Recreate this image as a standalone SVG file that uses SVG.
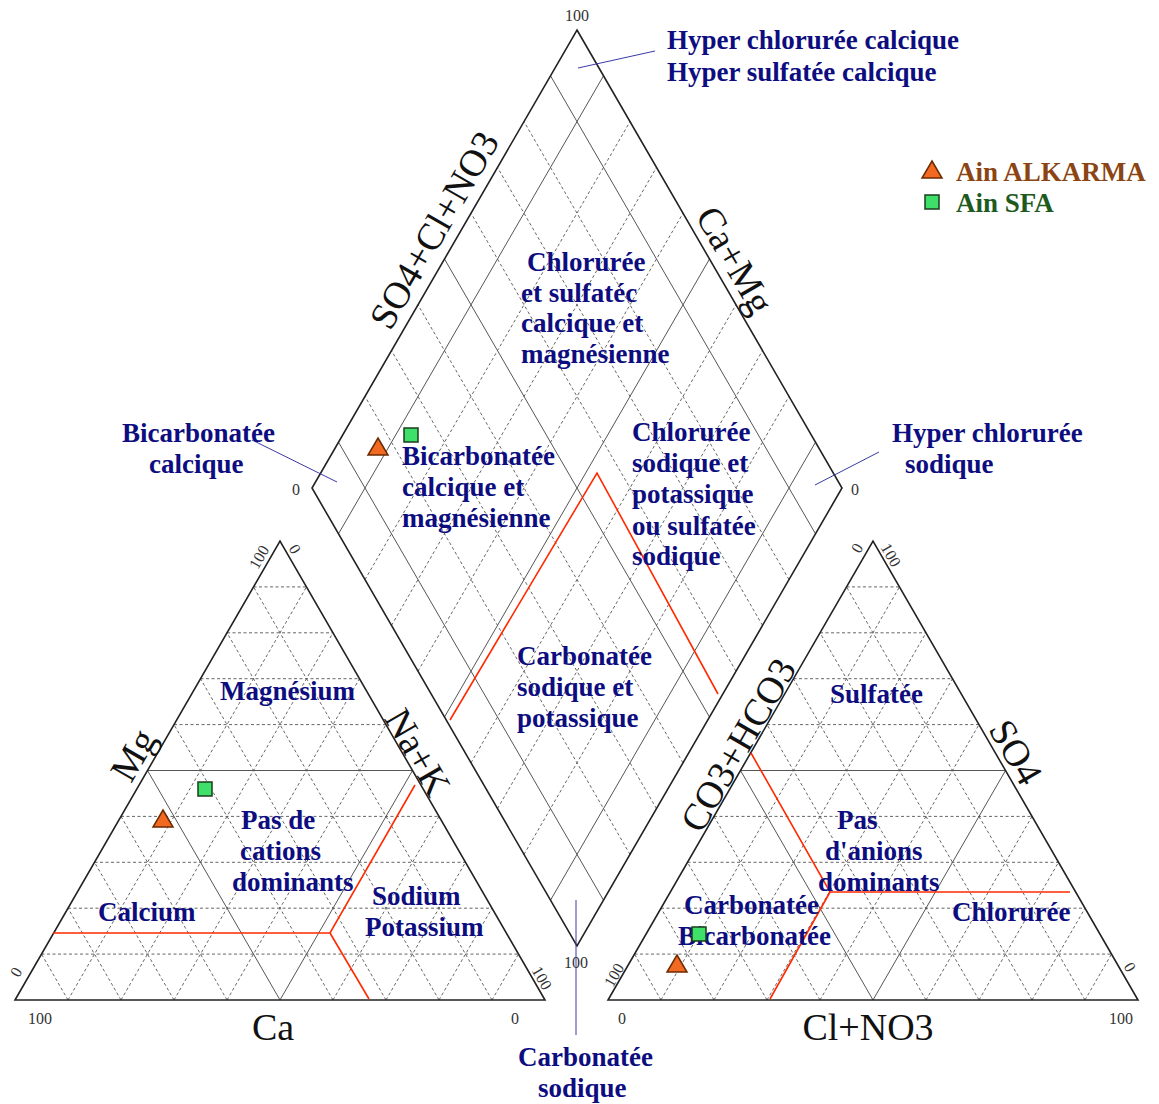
<svg xmlns="http://www.w3.org/2000/svg" xmlns:xlink="http://www.w3.org/1999/xlink" width="1159" height="1104" viewBox="0 0 1159 1104">
<style>
.edge{stroke:#222;stroke-width:1.6;fill:none;stroke-linejoin:miter}
.solid{stroke:#555;stroke-width:1;fill:none}
.dash{stroke:#555;stroke-width:0.9;stroke-dasharray:3 2.5;fill:none}
.red{stroke:#ff2a00;stroke-width:1.6;fill:none}
.lead{stroke:#3a3aa8;stroke-width:1;fill:none}
.lbl{font-family:"Liberation Serif","Times New Roman",serif;font-weight:bold;font-size:27px;fill:#0d0d80}
.axis{font-family:"Liberation Serif","Times New Roman",serif;font-size:38px;fill:#111}
.num{font-family:"Liberation Serif","Times New Roman",serif;font-size:16px;fill:#333}
.tri{fill:#f26a22;stroke:#6b2a00;stroke-width:1.5}
.sq{fill:#3ee06a;stroke:#1b3d1b;stroke-width:1.5}
</style>
<defs>
<g id="trigrid">
<path class="dash" d="M41.5 954.1H518.5M68 908.2H492M94.5 862.3H465.5M121 816.4H439M174 724.6H386M200.5 678.7H359.5M227 632.8H333M253.5 586.9H306.5"/>
<path class="dash" d="M68 1000L306.5 586.9M121 1000L333 632.8M174 1000L359.5 678.7M227 1000L386 724.6M333 1000L439 816.4M386 1000L465.5 862.3M439 1000L492 908.2M492 1000L518.5 954.1"/>
<path class="dash" d="M68 1000L41.5 954.1M121 1000L68 908.2M174 1000L94.5 862.3M227 1000L121 816.4M333 1000L174 724.6M386 1000L200.5 678.7M439 1000L227 632.8M492 1000L253.5 586.9"/>
<path class="solid" d="M147.5 770.5H412.5L280 1000Z"/>
<path class="edge" d="M15 1000H545L280 541Z"/>
</g>
<path id="mtri" d="M0 -9L10 8H-10Z"/>
<rect id="msq" x="-7" y="-7" width="14" height="14"/>
</defs>

<g id="left-triangle">
<use xlink:href="#trigrid"/>
<polyline class="red" points="53,933 330,933 415,785"/>
<line class="red" x1="330" y1="933" x2="369" y2="999"/>
</g>

<g id="right-triangle">
<use xlink:href="#trigrid" x="593"/>
<polyline class="red" points="751,753 830,892 1070,892"/>
<line class="red" x1="830" y1="892" x2="770" y2="999"/>
</g>

<g id="diamond">
<path class="dash" d="M630 854.4L365 396.4M656.5 808.6L391.5 350.6M683 762.8L418 304.8M736 671.2L471 213.2M762.5 625.4L497.5 167.4M789 579.6L524 121.6"/>
<path class="dash" d="M524 854.4L789 396.4M497.5 808.6L762.5 350.6M471 762.8L736 304.8M418 671.2L683 213.2M391.5 625.4L656.5 167.4M365 579.6L630 121.6"/>
<path class="solid" d="M603.5 900.2L338.5 442.2M709.5 717L444.5 259M815.5 533.8L550.5 75.8M550.5 900.2L815.5 442.2M444.5 717L709.5 259M338.5 533.8L603.5 75.8"/>
<path class="edge" d="M577 30L842 488L577 946L312 488Z"/>
<polyline class="red" points="450,720 597,473 718,694"/>
</g>

<g id="connectors">
<line class="lead" x1="578" y1="68" x2="655" y2="51"/>
<line class="lead" x1="252" y1="440" x2="337" y2="482"/>
<line class="lead" x1="815" y1="485" x2="879" y2="452"/>
<line class="lead" x1="576" y1="900" x2="576" y2="1035"/>
</g>

<g id="numbers" class="num">
<text x="577" y="21" text-anchor="middle">100</text>
<text x="296" y="495" text-anchor="middle">0</text>
<text x="855" y="495" text-anchor="middle">0</text>
<text x="576" y="968" text-anchor="middle">100</text>
<text transform="translate(259,557) rotate(-60)" y="5.5" text-anchor="middle">100</text>
<text transform="translate(295,549) rotate(60)" y="5.5" text-anchor="middle">0</text>
<text transform="translate(16,972) rotate(-60)" y="5.5" text-anchor="middle">0</text>
<text x="40" y="1024" text-anchor="middle">100</text>
<text x="515" y="1024" text-anchor="middle">0</text>
<text transform="translate(542,978) rotate(60)" y="5.5" text-anchor="middle">100</text>
<text transform="translate(857,548) rotate(-60)" y="5.5" text-anchor="middle">0</text>
<text transform="translate(891,555) rotate(60)" y="5.5" text-anchor="middle">100</text>
<text transform="translate(614,975) rotate(-60)" y="5.5" text-anchor="middle">100</text>
<text x="622" y="1024" text-anchor="middle">0</text>
<text transform="translate(1130,967) rotate(60)" y="5.5" text-anchor="middle">0</text>
<text x="1121" y="1024" text-anchor="middle">100</text>
</g>

<g id="axis-labels" class="axis">
<text transform="translate(434,230) rotate(-60)" y="13" text-anchor="middle">SO4+Cl+NO3</text>
<text transform="translate(735,260) rotate(60)" y="13" text-anchor="middle">Ca+Mg</text>
<text transform="translate(133,755) rotate(-60)" y="13" text-anchor="middle">Mg</text>
<text transform="translate(418,752) rotate(60)" y="13" text-anchor="middle">Na+K</text>
<text transform="translate(738,745) rotate(-60)" y="13" text-anchor="middle">CO3+HCO3</text>
<text transform="translate(1016,752) rotate(60)" y="13" text-anchor="middle">SO4</text>
<text x="273" y="1040" text-anchor="middle">Ca</text>
<text x="868" y="1040" text-anchor="middle">Cl+NO3</text>
</g>

<g id="region-labels" class="lbl">
<text x="667" y="49">Hyper chlorurée calcique</text>
<text x="667" y="81">Hyper sulfatée calcique</text>
<text x="122" y="442">Bicarbonatée</text>
<text x="149" y="473">calcique</text>
<text x="892" y="442">Hyper chlorurée</text>
<text x="905" y="473">sodique</text>
<text x="518" y="1066">Carbonatée</text>
<text x="538" y="1097">sodique</text>
<text x="527" y="271">Chlorurée</text>
<text x="521" y="302">et sulfatéc</text>
<text x="521" y="332">calcique et</text>
<text x="521" y="363">magnésienne</text>
<text x="402" y="465">Bicarbonatée</text>
<text x="402" y="496">calcique et</text>
<text x="402" y="527">magnésienne</text>
<text x="632" y="441">Chlorurée</text>
<text x="632" y="472">sodique et</text>
<text x="632" y="503">potassique</text>
<text x="632" y="535">ou sulfatée</text>
<text x="632" y="565">sodique</text>
<text x="517" y="665">Carbonatée</text>
<text x="517" y="696">sodique et</text>
<text x="517" y="727">potassique</text>
<text x="220" y="700">Magnésium</text>
<text x="241" y="829">Pas de</text>
<text x="240" y="860">cations</text>
<text x="232" y="891">dominants</text>
<text x="98" y="921">Calcium</text>
<text x="372" y="905">Sodium</text>
<text x="365" y="936">Potassium</text>
<text x="830" y="703">Sulfatée</text>
<text x="837" y="829">Pas</text>
<text x="825" y="860">d'anions</text>
<text x="818" y="891">dominants</text>
<text x="684" y="914">Carbonatée</text>
<text x="678" y="945">Bicarbonatée</text>
<text x="952" y="921">Chlorurée</text>
</g>

<g id="samples">
<use xlink:href="#mtri" class="tri" x="163" y="819"/>
<use xlink:href="#msq" class="sq" x="205" y="789"/>
<use xlink:href="#mtri" class="tri" x="378" y="447"/>
<use xlink:href="#msq" class="sq" x="411" y="435"/>
<use xlink:href="#msq" class="sq" x="699" y="934"/>
<use xlink:href="#mtri" class="tri" x="677" y="964"/>
</g>

<g id="legend">
<use xlink:href="#mtri" class="tri" x="932" y="170"/>
<use xlink:href="#msq" class="sq" x="932" y="202"/>
<text x="956" y="181" style="font-family:'Liberation Serif',serif;font-weight:bold;font-size:27px;fill:#8b4513">Ain ALKARMA</text>
<text x="956" y="212" style="font-family:'Liberation Serif',serif;font-weight:bold;font-size:27px;fill:#1e5a1e">Ain SFA</text>
</g>
</svg>
